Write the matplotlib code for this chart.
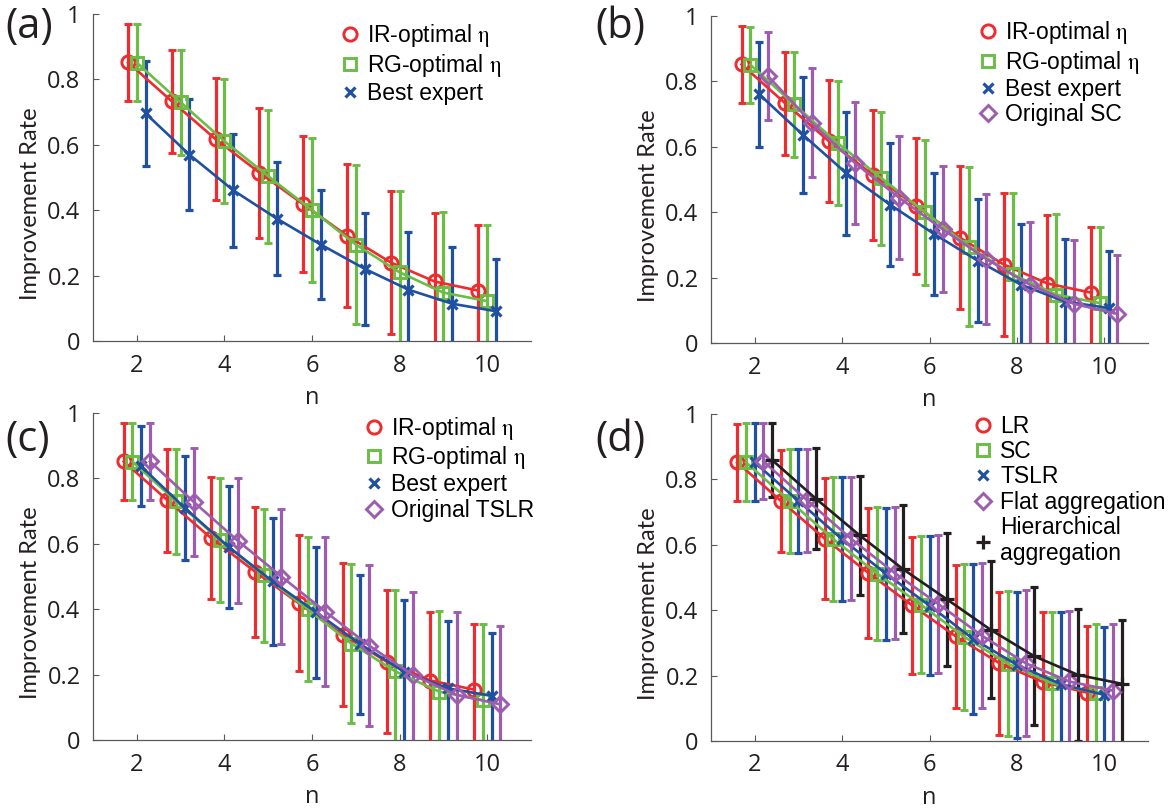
import numpy as np
import matplotlib.pyplot as plt
from matplotlib.lines import Line2D

plt.rcParams['mathtext.fontset'] = 'stix'

n = np.arange(2, 11)

# IR-optimal eta (same in a, b, c)
ir_mean = [0.852, 0.733, 0.617, 0.515, 0.418, 0.322, 0.240, 0.182, 0.154]
ir_sd = [0.117, 0.157, 0.186, 0.199, 0.208, 0.218, 0.218, 0.211, 0.201]
# RG-optimal eta
rg_mean = [0.851, 0.730, 0.611, 0.504, 0.400, 0.295, 0.210, 0.148, 0.122]
rg_sd = [0.117, 0.160, 0.190, 0.203, 0.221, 0.242, 0.249, 0.247, 0.232]
# best expert, panel a / b / c
best_a_mean = [0.696, 0.570, 0.461, 0.374, 0.295, 0.221, 0.157, 0.114, 0.091]
best_a_sd = [0.161, 0.170, 0.172, 0.172, 0.166, 0.171, 0.177, 0.173, 0.160]
best_b_mean = [0.761, 0.637, 0.519, 0.423, 0.334, 0.252, 0.178, 0.127, 0.107]
best_b_sd = [0.160, 0.178, 0.188, 0.188, 0.187, 0.187, 0.186, 0.191, 0.173]
best_c_mean = [0.837, 0.709, 0.590, 0.485, 0.390, 0.293, 0.209, 0.158, 0.135]
best_c_sd = [0.122, 0.160, 0.186, 0.194, 0.200, 0.212, 0.218, 0.206, 0.192]
# original SC (b), original TSLR (c)
osc_mean = [0.817, 0.674, 0.550, 0.445, 0.348, 0.257, 0.178, 0.120, 0.089]
osc_sd = [0.134, 0.166, 0.186, 0.189, 0.192, 0.199, 0.191, 0.196, 0.179]
otslr_mean = [0.852, 0.728, 0.610, 0.500, 0.393, 0.289, 0.199, 0.138, 0.109]
otslr_sd = [0.119, 0.165, 0.191, 0.207, 0.227, 0.247, 0.255, 0.255, 0.241]
# panel d
lr_mean = [0.852, 0.734, 0.619, 0.514, 0.415, 0.320, 0.238, 0.180, 0.148]
lr_sd = [0.117, 0.157, 0.186, 0.199, 0.209, 0.219, 0.219, 0.213, 0.205]
sc_mean = [0.852, 0.734, 0.617, 0.512, 0.417, 0.318, 0.236, 0.177, 0.148]
sc_sd = [0.119, 0.159, 0.189, 0.204, 0.210, 0.224, 0.222, 0.218, 0.211]
tslr_mean = [0.852, 0.734, 0.617, 0.512, 0.414, 0.312, 0.233, 0.174, 0.141]
tslr_sd = [0.119, 0.159, 0.189, 0.202, 0.212, 0.228, 0.223, 0.220, 0.207]
flat_mean = [0.855, 0.736, 0.619, 0.514, 0.419, 0.322, 0.238, 0.182, 0.154]
flat_sd = [0.116, 0.157, 0.187, 0.203, 0.210, 0.221, 0.223, 0.215, 0.205]
hier_mean = [0.859, 0.741, 0.629, 0.525, 0.433, 0.340, 0.259, 0.202, 0.175]
hier_sd = [0.112, 0.155, 0.182, 0.196, 0.204, 0.210, 0.211, 0.203, 0.196]

RED = '#ee2b2e'
GREEN = '#6bbd45'
BLUE = '#1f50a2'
PURPLE = '#9e5cb0'
BLACK = '#231f20'
TXT = '#231f20'
eta = r' $\mathrm{\eta}$'

styles = {
    'o': dict(ms=9.5, mew=2.1),
    's': dict(ms=8, mew=2.1),
    'x': dict(ms=7.5, mew=2.3),
    'D': dict(ms=8, mew=2.1),
    '+': dict(ms=10.5, mew=2.3),
}


def panel(ax, series, offsets, leg_xy, leg_space):
    handles = []
    for (mean, sd, color, mk, label), off in zip(series, offsets):
        ax.errorbar(n + off, mean, yerr=sd, color=color, marker=mk,
                    mfc='none', mec=color, lw=1.9, elinewidth=2.3,
                    capsize=2.6, capthick=2.3, **styles[mk])
        handles.append(Line2D([], [], ls='none', marker=mk, color=color,
                              mfc='none', label=label, **styles[mk]))
    ax.set_xlim(1, 11)
    ax.set_ylim(0, 1)
    ax.set_xticks([2, 4, 6, 8, 10])
    ax.set_yticks([0, 0.2, 0.4, 0.6, 0.8, 1])
    ax.set_yticklabels(['0', '0.2', '0.4', '0.6', '0.8', '1'])
    for s in ['top', 'right']:
        ax.spines[s].set_visible(False)
    for s in ['left', 'bottom']:
        ax.spines[s].set_color('#58595b')
        ax.spines[s].set_linewidth(0.9)
    ax.tick_params(direction='in', length=4, width=0.8, color='#58595b',
                   labelsize=17, labelcolor=TXT, pad=9)
    for lab in ax.get_xticklabels() + ax.get_yticklabels():
        lab.set_fontfamily('Open Sans')
    ax.set_xlabel('n', fontsize=17, family='Open Sans', color=TXT, labelpad=6)
    ax.set_ylabel('Improvement Rate', fontsize=17, family='Lato', color=TXT)
    ax.yaxis.set_label_coords(-0.118, 0.42)
    ax.legend(handles=handles, loc='upper left', bbox_to_anchor=leg_xy,
              frameon=False, borderpad=0, handlelength=0.8, handletextpad=0.35,
              labelspacing=leg_space,
              prop={'family': 'Liberation Sans', 'size': 16.5})


fig = plt.figure(figsize=(11.7, 8.1), dpi=100)
ax_a = fig.add_axes([0.0795, 0.579, 0.3744, 0.4037])
ax_b = fig.add_axes([0.6077, 0.5765, 0.3735, 0.4037])
ax_c = fig.add_axes([0.0795, 0.0864, 0.3744, 0.4037])
ax_d = fig.add_axes([0.6077, 0.0852, 0.3735, 0.4037])

panel(ax_a, [
    (ir_mean, ir_sd, RED, 'o', 'IR-optimal' + eta),
    (rg_mean, rg_sd, GREEN, 's', 'RG-optimal' + eta),
    (best_a_mean, best_a_sd, BLUE, 'x', 'Best expert'),
], [-0.2, 0.0, 0.2], (0.54, 1.01), 0.12)

panel(ax_b, [
    (ir_mean, ir_sd, RED, 'o', 'IR-optimal' + eta),
    (rg_mean, rg_sd, GREEN, 's', 'RG-optimal' + eta),
    (best_b_mean, best_b_sd, BLUE, 'x', 'Best expert'),
    (osc_mean, osc_sd, PURPLE, 'D', 'Original SC'),
], [-0.3, -0.1, 0.1, 0.3], (0.587, 1.025), 0.1)

panel(ax_c, [
    (ir_mean, ir_sd, RED, 'o', 'IR-optimal' + eta),
    (rg_mean, rg_sd, GREEN, 's', 'RG-optimal' + eta),
    (best_c_mean, best_c_sd, BLUE, 'x', 'Best expert'),
    (otslr_mean, otslr_sd, PURPLE, 'D', 'Original TSLR'),
], [-0.3, -0.1, 0.1, 0.3], (0.595, 1.03), 0.1)

panel(ax_d, [
    (lr_mean, lr_sd, RED, 'o', 'LR'),
    (sc_mean, sc_sd, GREEN, 's', 'SC'),
    (tslr_mean, tslr_sd, BLUE, 'x', 'TSLR'),
    (flat_mean, flat_sd, PURPLE, 'D', 'Flat aggregation'),
    (hier_mean, hier_sd, BLACK, '+', 'Hierarchical\naggregation'),
], [-0.4, -0.2, 0.0, 0.2, 0.4], (0.575, 1.033), 0.1)

for lbl, x, y in [('(a)', 0.005, 0.993), ('(b)', 0.509, 0.993),
                  ('(c)', 0.005, 0.483), ('(d)', 0.509, 0.483)]:
    fig.text(x, y, lbl, fontsize=30, family='Open Sans', color=TXT,
             ha='left', va='top')

plt.savefig('out.png', dpi=100)
